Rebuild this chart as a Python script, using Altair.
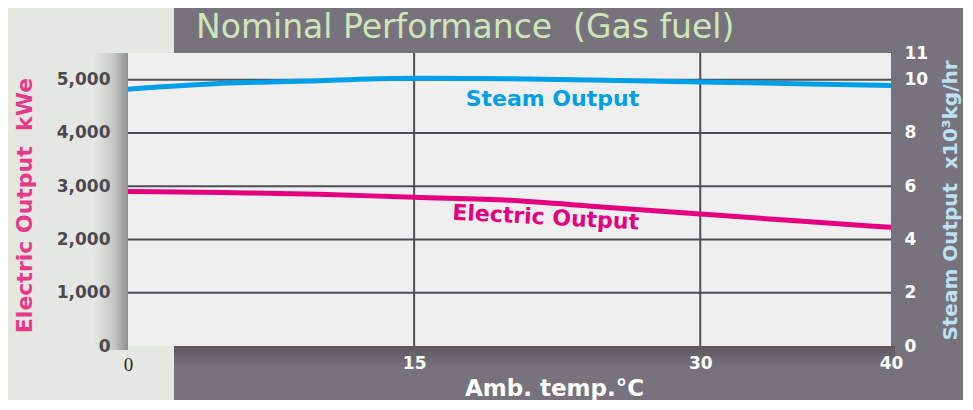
import altair as alt
import pandas as pd

# ---- data ----
temps = [0, 5, 10, 15, 20, 25, 30, 35, 40]
electric_kwe = [2900, 2880, 2850, 2790, 2735, 2605, 2477, 2350, 2227]
steam_t_hr = [9.64, 9.86, 9.96, 10.05, 10.03, 9.98, 9.91, 9.85, 9.78]
series_names = ["Electric Output", "Steam Output"]
x_ticks = [0, 15, 30, 40]
left_ticks = [0, 1000, 2000, 3000, 4000, 5000]
right_ticks = [0, 2, 4, 6, 8, 10, 11]
h_grid = [1000, 2000, 3000, 4000, 5000]
v_grid = [15, 30]
title_text = "Nominal Performance\u00a0\u00a0(Gas fuel)"
x_title = "Amb. temp.°C"
left_title = "Electric Output\u00a0\u00a0kWe"
right_title = "Steam Output\u00a0\u00a0x10³kg/hr"

# ---- styling ----
W, H = 763, 293
PANEL = "#76737d"
BG = "#e5e7e3"
PLOT_BG = "#efefef"
GRID = "#4e4e54"
BLUE = "#00a0e9"
MAGENTA = "#e4007f"
FONT = "DejaVu Sans"

df = pd.DataFrame({"temp": temps, "electric": electric_kwe, "steam": steam_t_hr})
one = alt.Data(values=[{}])

xs = alt.Scale(domain=[0, 40], nice=False, zero=False)
ys_e = alt.Scale(domain=[0, 5500], nice=False, zero=False)
ys_s = alt.Scale(domain=[0, 11], nice=False, zero=False)

x_axis = alt.Axis(
    orient="bottom", values=x_ticks, grid=False, domain=False, ticks=False,
    labelFlush=False, labelPadding=9,
    labelFont={"condition": {"test": "datum.value == 0", "value": "Liberation Serif"}, "value": FONT},
    labelFontWeight={"condition": {"test": "datum.value == 0", "value": "normal"}, "value": "bold"},
    labelFontSize={"condition": {"test": "datum.value == 0", "value": 19}, "value": 17},
    labelColor={"condition": {"test": "datum.value == 0", "value": "#2a2a2a"}, "value": "white"},
    title=x_title, titleFont=FONT, titleFontSize=23, titleFontWeight="bold", titleColor="white",
    titleX=426, titleY=42, titleAlign="center", titleBaseline="middle", zindex=1,
)
left_axis = alt.Axis(
    orient="left", values=left_ticks, labelExpr="format(datum.value, ',')",
    grid=False, domain=False, ticks=False,
    labelFont=FONT, labelFontWeight="bold", labelFontSize=17, labelColor="#4a4a50",
    labelPadding=18,
    title=left_title, titleFont=FONT, titleFontSize=22, titleFontWeight="bold",
    titleColor="#e8388b", titleAngle=270, titleAlign="center", titleBaseline="middle",
    titleX=-104, titleY=152, zindex=1,
)
right_axis = alt.Axis(
    orient="right", values=right_ticks, grid=False, domain=False, ticks=False,
    labelFont=FONT, labelFontWeight="bold", labelFontSize=17, labelColor="white",
    labelPadding=13, labelAlign="left",
    title=right_title, titleFont=FONT, titleFontSize=20, titleFontWeight="bold",
    titleColor="#bde0f3", titleAngle=270, titleAlign="center", titleBaseline="middle",
    titleX=59, titleY=147, zindex=1,
)

panel = alt.Chart(one).mark_rect(fill=PANEL).encode(
    x=alt.value(46), x2=alt.value(W + 90), y=alt.value(-60), y2=alt.value(H + 70)
)
bottom_shadow = alt.Chart(one).mark_rect(
    fill={"gradient": "linear", "x1": 0, "x2": 0, "y1": 0, "y2": 1,
          "stops": [{"offset": 0, "color": "#5a5760"}, {"offset": 1, "color": PANEL}]}
).encode(x=alt.value(46), x2=alt.value(W + 4), y=alt.value(H), y2=alt.value(H + 22))
left_shadow = alt.Chart(one).mark_rect(
    fill={"gradient": "linear", "x1": 0, "x2": 1, "y1": 0, "y2": 0,
          "stops": [{"offset": 0, "color": BG}, {"offset": 0.6, "color": "#c4c6c3"},
                    {"offset": 1, "color": "#8e8f8e"}]}
).encode(x=alt.value(-34), x2=alt.value(0), y=alt.value(0), y2=alt.value(H + 4))
plot_bg = alt.Chart(one).mark_rect(fill=PLOT_BG).encode(
    x=alt.value(0), x2=alt.value(W), y=alt.value(0), y2=alt.value(H)
)

hgrid = alt.Chart(pd.DataFrame({"v": h_grid})).mark_rule(color=GRID, strokeWidth=2).encode(
    y=alt.Y("v:Q", scale=ys_e, axis=left_axis)
)
vgrid = alt.Chart(pd.DataFrame({"t": v_grid})).mark_rule(color=GRID, strokeWidth=2).encode(
    x=alt.X("t:Q", scale=xs, axis=x_axis)
)

elec_line = alt.Chart(df).mark_line(color=MAGENTA, strokeWidth=5, interpolate="monotone").encode(
    x=alt.X("temp:Q", scale=xs, axis=x_axis),
    y=alt.Y("electric:Q", scale=ys_e, axis=left_axis),
)
elec_text = alt.Chart(one).mark_text(
    font=FONT, fontWeight="bold", fontSize=22, color=MAGENTA, angle=3,
    align="center", baseline="middle"
).encode(
    x=alt.X(datum=21.9, type="quantitative", scale=xs, axis=x_axis),
    y=alt.Y(datum=2411, type="quantitative", scale=ys_e, axis=left_axis),
    text=alt.value(series_names[0]),
)
title_mark = alt.Chart(one).mark_text(
    font=FONT, fontSize=33, color="#cfe4b9", align="left", baseline="alphabetic"
).encode(x=alt.value(68), y=alt.value(-15), text=alt.value(title_text))

steam_line = alt.Chart(df).mark_line(color=BLUE, strokeWidth=5, interpolate="monotone").encode(
    x=alt.X("temp:Q", scale=xs, axis=x_axis),
    y=alt.Y("steam:Q", scale=ys_s, axis=right_axis),
)
steam_text = alt.Chart(one).mark_text(
    font=FONT, fontWeight="bold", fontSize=22, color=BLUE, align="center", baseline="middle"
).encode(
    x=alt.X(datum=22.25, type="quantitative", scale=xs, axis=x_axis),
    y=alt.Y(datum=9.27, type="quantitative", scale=ys_s, axis=right_axis),
    text=alt.value(series_names[1]),
)

layer_e = alt.layer(panel, bottom_shadow, left_shadow, plot_bg, hgrid, vgrid,
                    elec_line, elec_text, title_mark)
layer_s = alt.layer(steam_line, steam_text)

chart = alt.layer(layer_e, layer_s).resolve_scale(y="independent").properties(
    width=W, height=H,
    autosize=alt.AutoSizeParams(type="none"),
    padding={"left": 120, "top": 45, "right": 72, "bottom": 54},
    background=BG,
).configure_view(strokeWidth=0)

chart.save("out.html", embed_options={"renderer": "svg", "actions": False})
